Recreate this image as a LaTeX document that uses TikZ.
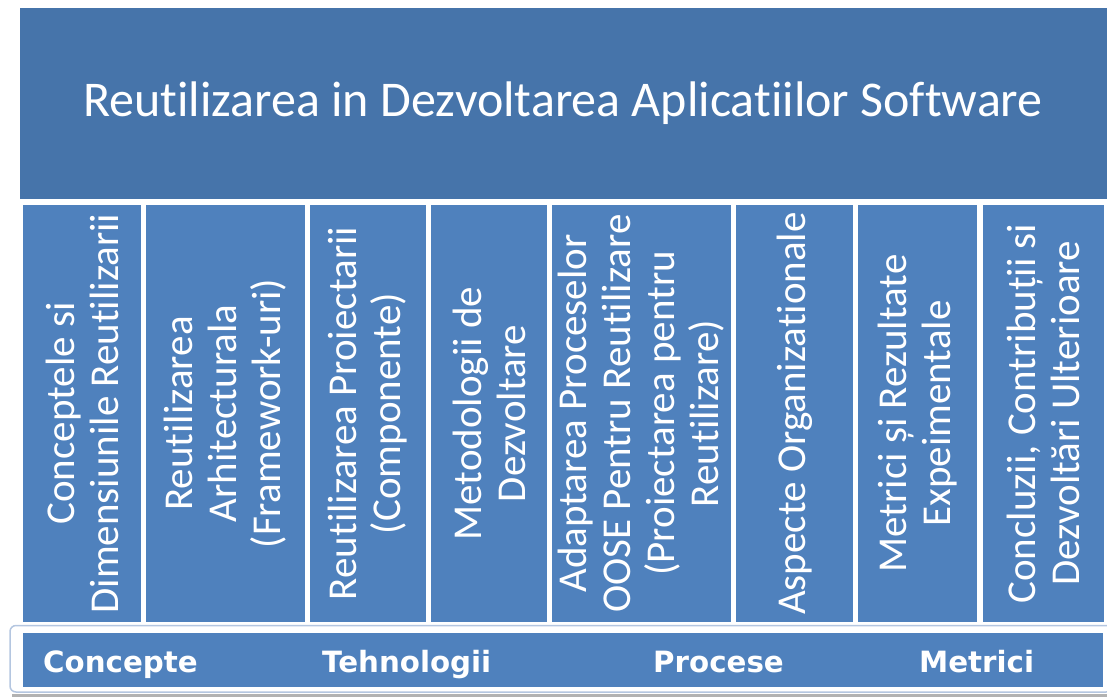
\documentclass[tikz,border=0pt]{standalone}
\usepackage{fontspec}
\setmainfont{Carlito}[Ligatures=NoCommon]
\newfontfamily\barfont{DejaVu Sans}
\definecolor{banner}{RGB}{70,116,170}
\definecolor{colblue}{RGB}{79,129,189}
\definecolor{framebl}{RGB}{180,198,224}
\tikzset{
  colbox/.style={fill=colblue, text=white, rotate=90, align=center, inner sep=0pt,
    minimum width=417pt, font=\fontsize{41}{44}\selectfont},
  barlabel/.style={text=white, anchor=base west, inner sep=0pt,
    font=\barfont\bfseries\fontsize{29.3}{31}\selectfont}
}
\begin{document}
\begin{tikzpicture}[x=1pt, y=-1pt]
\useasboundingbox (0, 0) rectangle (1107, 698);
% banner
\node [fill=banner, text=white, minimum width=1087pt, minimum height=191pt, inner sep=0pt,
  font=\fontsize{50}{56}\selectfont] (title) at (563, 103.5) {Reutilizarea in Dezvoltarea Aplicatiilor Software};
% columns
\node [colbox, minimum height=118pt] (c1) at (82, 413.5) {Conceptele si\\Dimensiunile Reutilizarii};
\node [colbox, minimum height=159pt] (c2) at (225.5, 413.5) {Reutilizarea\\Arhitecturala\\(Framework-uri)};
\node [colbox, minimum height=116pt] (c3) at (368, 413.5) {Reutilizarea Proiectarii\\(Componente)};
\node [colbox, minimum height=116pt] (c4) at (489, 413.5) {Metodologii de\\Dezvoltare};
\node [colbox, minimum height=179pt] (c5) at (641.5, 413.5) {Adaptarea Proceselor\\OOSE Pentru Reutilizare\\(Proiectarea pentru\\Reutilizare)};
\node [colbox, minimum height=117pt] (c6) at (794.5, 413.5) {Aspecte Organizationale};
\node [colbox, minimum height=119pt] (c7) at (917.5, 413.5) {Metrici și Rezultate\\Expeimentale};
\node [colbox, minimum height=121pt] (c8) at (1043.5, 413.5) {Concluzii, Contribuții si\\Dezvoltări Ulterioare};
% bottom bar
\draw [gray!60, line width=3pt] (12, 695) -- (1107, 695);
\draw [framebl, line width=1.5pt, fill=white, rounded corners=6pt] (10, 625.5) rectangle (1112, 692);
\fill [colblue] (23, 633) rectangle (1103, 687);
\node [barlabel] (concepte) at (43, 672) {Concepte};
\node [barlabel] (tehno) at (322, 672) {Tehnologii};
\node [barlabel] (procese) at (653, 672) {Procese};
\node [barlabel] (metrici) at (919, 672) {Metrici};
\end{tikzpicture}
\end{document}
